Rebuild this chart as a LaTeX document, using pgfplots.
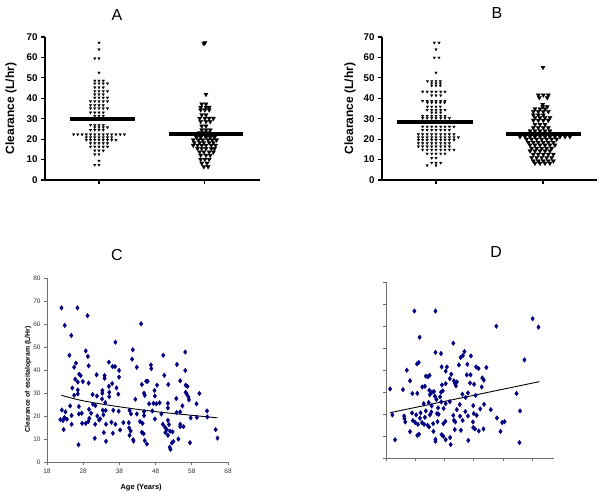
\documentclass[border=0pt]{standalone}
\usepackage{fontspec}
\setmainfont{Liberation Sans}
\usepackage{pgfplots}
\pgfplotsset{compat=1.18}
\usepackage{pgfplotstable}
\definecolor{navy}{RGB}{0,0,128}
\definecolor{axgray}{RGB}{110,110,110}

\pgfplotstableread{
x y
22.0 67.0
26.4 67.0
29.2 63.6
22.9 59.4
24.7 55.0
24.2 46.4
28.7 48.3
29.3 45.9
29.5 41.8
25.5 41.2
26.0 43.0
25.8 36.0
26.9 38.2
27.3 37.6
26.5 34.8
27.9 35.0
29.5 34.3
25.0 32.2
26.5 31.3
26.5 29.6
25.5 29.0
30.6 29.3
31.7 37.9
33.3 31.1
33.3 29.9
33.9 37.6
33.9 36.4
35.1 43.4
35.1 32.9
36.9 52.1
36.1 41.5
36.8 41.5
37.9 39.8
37.9 36.9
36.0 34.1
37.2 32.2
35.2 30.3
37.7 29.5
35.2 28.4
33.2 27.4
34.1 25.8
31.8 28.7
30.7 25.1
31.4 24.5
24.4 24.4
26.8 24.1
22.1 22.6
23.1 21.8
24.8 20.2
26.8 20.9
27.6 21.2
29.6 22.9
30.2 21.2
31.9 20.0
33.4 22.5
34.2 22.4
32.7 18.7
36.3 22.5
37.8 22.1
35.8 17.3
36.9 16.4
34.3 16.4
40.8 22.5
41.2 20.9
42.8 20.9
44.8 21.9
44.8 20.2
22.4 18.0
22.8 19.3
21.7 18.4
23.5 18.6
22.6 14.1
24.8 16.4
27.7 16.8
28.7 16.8
29.4 17.6
29.7 19.0
31.3 16.4
32.4 18.3
33.6 20.5
39.1 17.1
40.6 17.1
38.2 13.9
40.7 14.8
41.1 13.5
40.8 11.6
41.8 9.7
41.9 9.1
36.2 12.5
33.7 12.8
34.3 9.0
31.2 10.3
26.7 7.5
44.2 12.9
44.7 12.3
45.0 9.3
45.6 7.8
44.4 16.8
43.7 17.6
44.0 60.1
41.7 48.8
41.5 44.7
42.8 41.2
44.2 33.7
45.4 35.1
45.8 35.1
44.8 29.9
45.0 29.0
46.2 25.3
42.4 27.3
46.7 42.2
46.8 40.6
47.7 31.1
48.4 33.4
47.8 28.7
47.4 25.5
48.2 25.3
49.1 25.7
50.1 46.4
50.4 37.7
51.5 33.7
51.4 25.5
51.4 23.5
47.1 22.2
47.8 18.7
49.6 20.9
50.0 16.4
50.6 15.1
50.7 12.8
51.1 14.1
52.0 13.4
52.7 13.1
51.4 11.6
51.4 18.1
51.7 16.3
52.5 8.3
51.9 6.4
52.1 5.5
52.9 8.9
54.3 10.0
54.8 16.4
54.8 15.4
55.7 15.4
53.7 27.6
53.8 21.5
54.8 21.8
55.4 24.4
54.8 35.3
53.9 42.4
56.2 47.8
56.2 39.8
56.3 33.4
56.8 32.9
56.3 30.3
56.6 29.5
57.1 28.2
57.2 27.0
57.7 19.2
57.5 8.4
59.3 25.3
59.4 19.4
60.1 29.8
62.2 22.2
62.3 19.6
64.6 14.1
65.1 10.4
}\dataC

\pgfplotstableread{
x y
0.97 66.8
1.69 66.8
5.01 63.3
5.21 59.5
3.77 59.9
1.15 54.9
2.30 52.2
1.69 48.0
1.88 47.5
2.68 48.4
2.63 46.6
2.55 45.7
2.90 46.4
4.73 44.6
1.06 42.8
1.12 43.4
2.49 42.3
2.78 42.6
1.90 41.4
2.08 41.4
3.08 41.4
3.16 40.7
3.43 41.1
0.71 39.9
2.04 39.5
2.23 38.1
1.49 37.6
1.36 37.2
1.43 36.9
2.76 37.8
2.89 37.8
0.82 35.1
2.18 36.1
2.32 35.1
2.42 34.6
3.29 36.4
3.34 35.4
1.24 32.3
1.33 32.6
1.91 33.2
2.04 33.8
2.36 33.8
2.39 32.8
2.87 34.1
3.01 33.5
3.27 32.3
0.14 31.4
0.58 31.1
0.90 29.3
1.07 29.4
1.48 30.8
1.57 29.9
1.64 30.2
1.88 29.9
1.94 30.5
1.50 28.8
1.67 28.1
1.85 27.8
2.61 29.0
2.80 29.6
3.06 28.5
2.72 27.5
4.46 29.3
1.72 26.6
1.89 25.5
2.04 24.7
2.18 25.6
1.46 25.2
1.29 24.7
1.56 23.7
1.78 22.8
1.97 22.5
2.52 24.3
2.98 23.8
3.35 24.4
3.22 22.3
2.42 22.0
2.71 21.1
3.58 22.0
4.58 21.4
0.22 19.6
0.62 19.1
0.89 20.5
1.03 19.6
1.18 20.5
1.36 21.4
1.55 20.9
1.74 20.2
1.80 19.9
1.16 18.1
1.33 18.5
1.50 19.6
2.30 19.4
2.53 19.0
2.80 19.1
3.00 20.2
3.10 19.4
0.63 17.9
0.66 16.4
0.92 17.0
1.00 16.1
1.09 15.3
1.23 16.1
1.30 15.3
1.42 14.9
1.47 14.1
1.61 15.6
1.76 16.5
1.96 15.6
2.03 16.7
2.32 17.1
2.37 16.4
2.62 17.1
2.97 16.4
3.79 18.2
3.97 16.1
4.05 16.5
0.82 12.0
1.07 10.3
1.13 10.8
1.62 12.1
1.90 10.6
1.96 9.9
2.35 12.9
2.56 12.6
2.98 13.8
3.04 13.2
3.17 12.3
3.33 13.2
3.91 12.1
0.31 8.3
1.69 8.5
1.69 7.6
2.04 8.3
2.19 9.3
2.21 6.1
2.81 8.0
4.56 7.0
}\dataD

\pgfplotsset{
  /pgf/number format/assume math mode=true,
  swarm/.style={
    scale only axis, width=215bp, height=143bp,
    axis lines*=left, ymin=0, ymax=70, ytick={0,10,...,70},
    xtick={1,2}, xticklabels={},
    tick align=outside, major tick length=4bp,
    axis line style={line width=1.3bp},
    every tick/.style={line width=1.1bp, black},
    tick label style={font=\fontsize{9.8}{10}\selectfont\bfseries},
    ylabel={Clearance (L/hr)},
    ylabel style={font=\fontsize{12}{12}\selectfont\bfseries, anchor=center},
    clip=false,
  },
  smalltri/.style={only marks, mark=triangle*, mark size=1.5bp, mark options={rotate=180, fill=black, draw=black, line width=0.2bp}},
  bigtri/.style={only marks, mark=triangle*, mark size=2.5bp, mark options={rotate=180, fill=black, draw=black, line width=0.2bp}},
  scat/.style={
    scale only axis, axis lines*=left, ymin=0, ymax=80, ytick={0,10,...,80},
    tick align=outside, major tick length=3bp,
    axis line style={axgray, line width=0.7bp},
    every tick/.style={axgray, line width=0.7bp},
    tick label style={font=\fontsize{6.5}{7}\selectfont, text=black!80},
    clip=false,
  },
  navydots/.style={only marks, mark=diamond*, mark size=2.3bp, mark options={fill=navy, draw=navy}},
}

\begin{document}
\begin{tikzpicture}
\useasboundingbox (0,0) rectangle (601bp,496bp);

% ---------- Panel A ----------
\begin{axis}[swarm, at={(45bp,316bp)}, anchor=south west,
  xmin=0.49, xmax=2.52,
  ylabel style={at={(axis description cs:-0.158,0.5)}}]
\addplot[smalltri] coordinates {
(1.00,67.2)(1.00,63.9)(0.96,59.5)(1.00,59.5)(1.00,52.5)
(0.96,48.6)(1.00,48.6)(1.04,48.6)
(0.96,47.3)(1.00,47.3)(1.04,47.3)(1.08,47.3)
(0.96,45.3)(1.00,45.3)(1.04,45.3)
(0.96,43.5)(1.00,43.5)(1.04,43.5)(1.08,43.5)
(0.96,41.9)(1.00,41.9)(1.04,41.9)
(0.96,40.3)(1.00,40.3)(1.04,40.3)(1.08,40.3)
(0.92,38.5)(0.96,38.5)(1.00,38.5)(1.04,38.5)(1.08,38.5)
(0.92,36.6)(0.96,36.6)(1.00,36.6)(1.04,36.6)
(0.92,35.1)(0.96,35.1)(1.00,35.1)(1.04,35.1)(1.08,35.1)
(0.92,33.0)(0.96,33.0)(1.00,33.0)(1.04,33.0)
(0.96,31.4)(1.00,31.4)(1.04,31.4)
(0.92,29.8)(0.96,29.8)(1.00,29.8)(1.04,29.8)
(0.92,26.9)(0.96,26.9)(1.00,26.9)(1.04,26.9)
(0.96,25.8)(1.00,25.8)(1.04,25.8)(1.08,25.8)
(0.92,24.5)(0.96,24.5)(1.00,24.5)(1.04,24.5)
(0.76,22.3)(0.80,22.3)(0.84,22.3)(0.88,22.3)(0.92,22.3)(0.96,22.3)(1.00,22.3)(1.04,22.3)(1.08,22.3)(1.12,22.3)(1.16,22.3)(1.20,22.3)(1.24,22.3)
(0.88,20.9)(0.92,20.9)(0.96,20.9)(1.00,20.9)(1.04,20.9)(1.08,20.9)(1.12,20.9)
(0.88,19.6)(0.92,19.6)(0.96,19.6)(1.00,19.6)(1.04,19.6)(1.08,19.6)(1.12,19.6)(1.16,19.6)
(0.92,18.0)(0.96,18.0)(1.00,18.0)(1.04,18.0)(1.08,18.0)
(0.92,16.3)(0.96,16.3)(1.00,16.3)(1.04,16.3)(1.08,16.3)
(0.96,14.4)(1.00,14.4)(1.04,14.4)
(0.96,12.6)(1.00,12.6)
(1.00,9.4)
(0.96,7.4)(1.00,7.4)
};
\addplot[bigtri] coordinates {
(2.00,67.2)(1.99,66.8)
(2.01,41.9)
(1.97,37.2)(2.01,37.2)
(1.96,35.6)(2.01,35.6)(2.04,35.6)
(1.96,34.3)(2.00,34.3)(2.04,34.3)
(1.97,31.9)(2.01,31.9)
(1.95,30.2)(2.00,30.2)(2.04,30.2)(2.08,30.2)
(1.96,28.6)(2.01,28.6)(2.05,28.6)
(1.97,26.4)(2.01,26.4)
(1.97,24.5)(2.01,24.5)(2.05,24.5)
(1.95,23.2)(1.99,23.2)(2.03,23.2)
(1.92,20.9)(1.96,20.9)(2.01,20.9)(2.05,20.9)(2.09,20.9)
(1.89,19.6)(1.94,19.6)(1.98,19.6)(2.03,19.6)(2.07,19.6)(2.11,19.6)
(1.90,18.3)(1.95,18.3)(1.99,18.3)(2.04,18.3)(2.08,18.3)
(1.89,17.0)(1.93,17.0)(1.97,17.0)(2.01,17.0)(2.06,17.0)(2.10,17.0)
(1.93,15.4)(1.97,15.4)(2.01,15.4)(2.06,15.4)(2.09,15.4)
(1.95,13.7)(1.99,13.7)(2.04,13.7)(2.08,13.7)
(1.96,12.1)(2.01,12.1)(2.05,12.1)
(1.96,10.1)(2.00,10.1)(2.04,10.1)
(1.97,8.2)(2.02,8.2)
(1.99,6.5)(2.03,6.5)
};
\addplot[black, line width=4bp] coordinates {(0.726,29.7)(1.34,29.7)};
\addplot[black, line width=4bp] coordinates {(1.66,22.3)(2.36,22.3)};
\end{axis}
\node[font=\fontsize{16}{16}\selectfont] at (117bp,481bp) {A};

% ---------- Panel B ----------
\begin{axis}[swarm, at={(382bp,316bp)}, anchor=south west,
  xmin=0.495, xmax=2.505,
  ylabel style={at={(axis description cs:-0.149,0.5)}}]
\addplot[smalltri] coordinates {
(0.984,67.2)(1.028,67.2)
(1.00,63.9)
(0.984,59.9)(1.028,59.9)
(1.00,52.5)
(0.92,48.4)(0.96,48.4)(1.00,48.4)(1.04,48.4)
(0.96,47.3)(1.00,47.3)(1.04,47.3)
(0.96,46.2)(1.00,46.2)(1.04,46.2)
(0.875,43.2)(0.917,43.2)(0.96,43.2)(1.00,43.2)(1.044,43.2)(1.084,43.2)
(0.96,41.4)(1.00,41.4)(1.044,41.4)
(0.875,38.7)(0.917,38.7)(0.96,38.7)(1.00,38.7)(1.044,38.7)(1.084,38.7)
(0.92,37.9)(0.96,37.9)(1.00,37.9)(1.04,37.9)(1.08,37.9)
(0.92,35.9)(0.96,35.9)(1.00,35.9)(1.04,35.9)
(0.917,34.3)(0.96,34.3)(1.00,34.3)(1.044,34.3)(1.084,34.3)
(0.96,33.0)(1.00,33.0)(1.044,33.0)
(0.875,31.4)(0.917,31.4)(0.96,31.4)(1.00,31.4)(1.044,31.4)(1.084,31.4)
(0.875,30.3)(0.917,30.3)(0.96,30.3)(1.00,30.3)(1.044,30.3)(1.084,30.3)(1.125,30.3)
(0.875,26.1)(0.917,26.1)(0.96,26.1)(1.00,26.1)(1.044,26.1)(1.084,26.1)(1.125,26.1)(1.168,26.1)
(0.875,24.5)(0.917,24.5)(0.96,24.5)(1.00,24.5)(1.044,24.5)(1.084,24.5)(1.125,24.5)
(0.835,22.4)(0.875,22.4)(0.917,22.4)(0.96,22.4)(1.00,22.4)(1.044,22.4)(1.084,22.4)(1.125,22.4)(1.168,22.4)
(0.835,20.9)(0.875,20.9)(0.917,20.9)(0.96,20.9)(1.00,20.9)(1.044,20.9)(1.084,20.9)(1.125,20.9)(1.168,20.9)(1.209,20.9)
(0.835,19.6)(0.875,19.6)(0.917,19.6)(0.96,19.6)(1.00,19.6)(1.044,19.6)(1.084,19.6)(1.125,19.6)(1.168,19.6)
(0.835,18.0)(0.875,18.0)(0.917,18.0)(0.96,18.0)(1.00,18.0)(1.044,18.0)(1.084,18.0)(1.125,18.0)
(0.835,16.4)(0.875,16.4)(0.917,16.4)(0.96,16.4)(1.00,16.4)(1.044,16.4)(1.084,16.4)(1.125,16.4)
(0.875,14.8)(0.917,14.8)(0.96,14.8)(1.00,14.8)(1.044,14.8)(1.084,14.8)(1.125,14.8)(1.168,14.8)
(0.917,12.9)(0.96,12.9)(1.00,12.9)(1.044,12.9)(1.084,12.9)
(0.96,10.8)(1.00,10.8)
(0.96,8.4)(1.00,8.4)(1.044,8.4)
(0.917,7.1)(1.00,7.1)
};
\addplot[bigtri] coordinates {
(2.00,55.1)
(1.956,41.6)(2.003,41.6)(2.05,41.6)
(1.966,40.3)(2.04,40.3)
(1.997,37.0)
(1.997,35.9)(2.04,35.9)
(1.925,34.8)(1.972,34.8)(2.019,34.8)
(1.91,33.5)(1.956,33.5)(2.003,33.5)(2.05,33.5)
(1.91,31.8)(1.956,31.8)(2.003,31.8)
(1.925,30.5)(1.972,30.5)(2.019,30.5)(2.065,30.5)
(1.91,29.2)(1.956,29.2)(2.003,29.2)(2.05,29.2)
(1.925,27.2)(1.972,27.2)(2.019,27.2)
(1.91,25.6)(1.956,25.6)(2.003,25.6)(2.05,25.6)
(1.879,24.0)(1.925,24.0)(1.972,24.0)(2.019,24.0)(2.065,24.0)
(1.785,21.2)(1.832,21.2)(1.879,21.2)(1.925,21.2)(1.972,21.2)(2.019,21.2)(2.065,21.2)(2.112,21.2)(2.159,21.2)(2.206,21.2)(2.252,21.2)
(1.847,20.0)(1.894,20.0)(1.941,20.0)(1.988,20.0)(2.034,20.0)(2.081,20.0)(2.128,20.0)
(1.863,18.4)(1.91,18.4)(1.956,18.4)(2.003,18.4)(2.05,18.4)(2.097,18.4)
(1.879,17.1)(1.925,17.1)(1.972,17.1)(2.019,17.1)(2.065,17.1)(2.112,17.1)
(1.894,15.5)(1.941,15.5)(1.988,15.5)(2.034,15.5)(2.081,15.5)
(1.879,14.2)(1.925,14.2)(1.972,14.2)(2.019,14.2)(2.065,14.2)
(1.91,12.6)(1.956,12.6)(2.003,12.6)(2.05,12.6)(2.097,12.6)
(1.894,11.0)(1.941,11.0)(1.988,11.0)(2.034,11.0)(2.081,11.0)
(1.91,9.3)(1.956,9.3)(2.003,9.3)(2.05,9.3)(2.097,9.3)
(1.925,8.2)(1.972,8.2)(2.019,8.2)(2.065,8.2)
};
\addplot[black, line width=4bp] coordinates {(0.636,28.6)(1.346,28.6)};
\addplot[black, line width=4bp] coordinates {(1.654,22.3)(2.355,22.3)};
\end{axis}
\node[font=\fontsize{16}{16}\selectfont] at (497bp,483bp) {B};

% ---------- Panel C ----------
\begin{axis}[scat, at={(47bp,34bp)}, anchor=south west,
  width=181bp, height=184bp,
  xmin=18, xmax=68, xtick={18,28,...,68},
  ylabel={Clearance of escitalopram (L/Hr)},
  ylabel style={font=\fontsize{6.9}{7}\selectfont\bfseries, at={(axis description cs:-0.105,0.45)}, anchor=center},
  xlabel={Age (Years)},
  xlabel style={font=\fontsize{7.5}{8}\selectfont\bfseries, at={(axis description cs:0.52,-0.141)}, anchor=center}]
\addplot[navydots] table[x=x,y=y] {\dataC};
\addplot[black, line width=0.9bp, smooth] coordinates {(22,29.0)(28,26.6)(38,24.0)(48,21.9)(58,20.3)(65.1,19.2)};
\end{axis}
\node[font=\fontsize{16}{16}\selectfont] at (117bp,241bp) {C};

% ---------- Panel D ----------
\begin{axis}[scat, at={(386bp,38bp)}, anchor=south west,
  width=168bp, height=176bp,
  xmin=0, xmax=5.74, xtick={0,1,...,5},
  xticklabels={}, yticklabels={}]
\addplot[navydots] table[x=x,y=y] {\dataD};
\addplot[black, line width=0.9bp] coordinates {(0.14,20.6)(5.24,34.7)};
\end{axis}
\node[font=\fontsize{16}{16}\selectfont] at (496bp,244bp) {D};
\end{tikzpicture}
\end{document}
